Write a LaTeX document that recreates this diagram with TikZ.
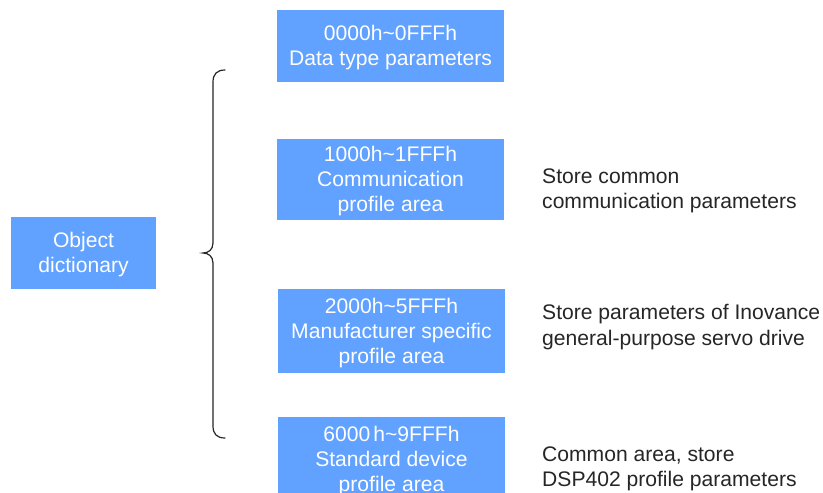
\documentclass[tikz,border=0pt]{standalone}
\usepackage{fontspec}
\setmainfont{Liberation Sans}
\definecolor{boxblue}{RGB}{97,161,255}
\definecolor{txtgray}{RGB}{38,38,38}
\newcommand{\lowstrut}{\rule{0pt}{19.2pt}}
\begin{document}
\begin{tikzpicture}[x=1pt,y=-1pt,
  bluebox/.style={fill=boxblue,text=white,inner sep=0pt,align=center,
    font=\fontsize{21.1}{25}\selectfont},
  sidetext/.style={text=txtgray,inner sep=0pt,align=left,anchor=west,
    font=\fontsize{21.1}{25.3}\selectfont},
  bracestyle/.style={draw=black!85,line width=1.2pt,line cap=round}]
\useasboundingbox[fill=white] (0,0) rectangle (823,493);

\node[bluebox,minimum width=145pt,minimum height=72pt] (obj) at (83.5,253) {\lowstrut Object\\dictionary};
\node[bluebox,minimum width=227pt,minimum height=72pt] (b1) at (390.5,46) {\lowstrut 0000h\textasciitilde0FFFh\\Data type parameters};
\node[bluebox,minimum width=227pt,minimum height=81pt] (b2) at (390.5,179.5) {\lowstrut 1000h\textasciitilde1FFFh\\Communication\\profile area};
\node[bluebox,minimum width=227pt,minimum height=84pt] (b3) at (391.5,331) {\lowstrut 2000h\textasciitilde5FFFh\\Manufacturer specific\\profile area};
\node[bluebox,minimum width=227pt,minimum height=84pt] (b4) at (391.5,459) {\lowstrut 6000\hspace{3pt}h\textasciitilde9FFFh\\Standard device\\profile area};

\node[sidetext] (t2) at (542,191) {Store common\\communication parameters};
\node[sidetext] (t3) at (542,327) {Store parameters of Inovance\\general-purpose servo drive};
\node[sidetext] (t4) at (542,469) {Common area, store\\DSP402 profile parameters};

\coordinate (btop) at (225,70);
\coordinate (btip) at (203,253);
\coordinate (bbot) at (225,438);
\draw[bracestyle] (btop) .. controls (217,70) and (213,74) .. (213,82) -- (213,243)
  .. controls (213,250) and (208,253) .. (btip)
  .. controls (208,253) and (213,256) .. (213,263) -- (213,426)
  .. controls (213,434) and (217,438) .. (bbot);
\end{tikzpicture}
\end{document}
